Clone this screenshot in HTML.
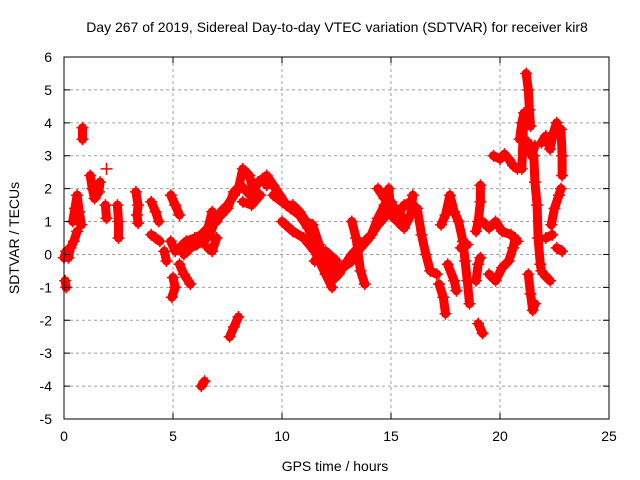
<!DOCTYPE html>
<html><head><meta charset="utf-8"><style>
body{margin:0;background:#fff}
svg{display:block;font-family:"Liberation Sans",sans-serif}
</style></head><body>
<svg id="chart" width="640" height="480">
<rect width="640" height="480" fill="#fff"/>
<text x="337" y="32" font-size="14" text-anchor="middle">Day 267 of 2019, Sidereal Day-to-day VTEC variation (SDTVAR) for receiver kir8</text>
<text x="335" y="471" font-size="14" text-anchor="middle">GPS time / hours</text>
<text x="19" y="238" font-size="14" text-anchor="middle" transform="rotate(-90 19 238)">SDTVAR / TECUs</text>
<g id="grid"></g><g id="data"></g><g id="axes"></g>
</svg>
<script>
const xTicks=[0,5,10,15,20,25];
const yTicks=[-5,-4,-3,-2,-1,0,1,2,3,4,5,6];
// tracks separated by null
const times=[0,0.1,0.2,0.3,0.45,0.6,null,0.05,0.1,null,0.4,0.5,0.6,0.7,0.8,null,0.85,0.85,null,1.2,1.3,1.4,1.6,1.65,null,1.95,null,1.9,1.95,null,2.45,2.5,2.5,null,3.3,3.4,3.35,3.4,null,4.0,4.2,4.35,null,4.0,4.2,4.4,null,4.6,4.7,null,4.9,5.1,5.3,null,4.9,5.1,null,5.0,5.1,4.95,null,5.3,5.5,5.8,null,
5.3,5.6,6.0,6.3,6.6,6.8,7.0,7.2,7.5,7.8,8.0,8.2,8.5,8.7,8.9,9.1,9.3,null,6.6,6.8,7.0,null,8.2,8.6,9.0,null,6.3,6.45,null,7.6,7.8,8.0,null,
5.5,5.8,6.1,6.4,6.7,6.9,7.2,7.5,7.8,8.1,8.4,8.7,9.0,null,
9.3,9.6,9.9,10.2,10.5,10.8,11.1,11.4,11.7,12.0,12.3,12.6,12.9,13.2,13.5,13.8,14.1,14.4,14.7,15.0,15.3,15.6,15.9,null,10.0,10.5,11.0,11.5,12.0,12.3,null,11.5,12.0,12.5,null,13.2,13.4,13.6,13.8,null,14.4,14.7,14.9,15.0,15.3,15.6,15.9,16.0,null,
9.6,10.0,10.4,10.8,11.2,11.6,12.0,12.4,12.8,13.2,13.6,14.0,14.4,14.8,15.2,15.6,null,
16.2,16.4,16.6,16.8,17.1,null,17.2,17.4,17.5,null,17.3,17.5,17.7,17.9,18.1,18.3,18.4,18.5,18.6,null,17.6,17.9,18.0,null,18.2,18.5,null,18.9,19.0,19.1,null,18.9,19.0,19.1,19.1,null,19.0,19.2,null,19.2,19.5,19.8,20.1,20.5,20.8,null,19.5,19.8,20.1,20.4,20.6,20.7,null,19.7,20.0,20.2,20.4,20.6,20.8,null,
20.9,21.0,21.1,21.0,null,21.2,21.3,21.35,21.4,null,21.3,21.45,21.6,null,21.3,21.4,21.5,21.6,null,21.55,21.6,21.7,21.75,21.85,21.9,null,21.9,22.1,22.3,22.45,22.6,22.7,null,22.0,22.3,null,22.1,22.4,null,22.35,22.5,22.7,22.8,null,22.8,22.85,22.85,null,22.6,22.85];
const values=[-0.1,0.1,-0.1,0.2,0.4,0.7,null,-0.8,-1.0,null,1.0,1.4,1.8,1.3,0.9,null,3.5,3.85,null,2.4,2.0,1.7,1.9,2.2,null,2.6,null,1.5,1.1,null,1.5,1.0,0.5,null,1.9,1.5,1.2,0.95,null,1.6,1.3,1.0,null,0.6,0.5,0.4,null,0.1,-0.2,null,1.8,1.5,1.2,null,0.4,0.1,null,-0.7,-1.0,-1.3,null,-0.3,-0.6,-0.9,null,
0.2,0.4,0.5,0.6,0.8,1.3,1.0,1.3,1.5,1.8,2.0,2.6,2.4,1.9,2.2,2.3,2.1,null,0.2,0.1,0.5,null,1.6,1.5,1.8,null,-4.0,-3.85,null,-2.5,-2.2,-1.9,null,
0.0,0.2,0.3,0.4,0.6,1.0,1.2,1.4,1.9,2.1,1.9,1.7,1.8,null,
2.4,2.1,1.8,1.5,1.5,1.3,1.0,0.9,0.3,-0.4,-0.8,-0.6,-0.3,0.0,0.2,0.4,0.6,1.1,1.5,1.6,1.2,1.5,1.6,null,1.0,0.7,0.5,0.1,-0.6,-1.0,null,-0.2,0.1,-0.2,null,1.0,0.5,-0.5,-0.9,null,2.0,1.7,2.0,1.2,1.0,0.8,1.2,1.8,null,
1.8,1.6,1.4,1.2,0.8,0.2,-0.2,-0.5,-0.4,-0.2,0.2,0.5,0.9,1.2,1.3,1.1,null,
1.4,0.6,0.0,-0.5,-0.6,null,-0.9,-1.3,-1.8,null,0.9,1.2,1.8,1.3,1.0,0.4,-0.2,-0.8,-1.5,null,-0.3,-0.8,-1.1,null,0.2,0.3,null,-0.8,-0.3,-0.1,null,0.7,1.0,1.6,2.1,null,-2.1,-2.4,null,1.0,0.8,1.0,0.7,0.6,0.4,null,-0.6,-0.8,-0.4,-0.2,0.2,0.5,null,3.0,2.9,3.05,2.9,2.7,2.6,null,
3.5,4.0,4.3,2.6,null,5.5,5.0,4.4,3.9,null,3.4,3.0,3.3,null,-0.6,-1.2,-1.7,-1.5,null,3.0,2.2,1.5,0.5,-0.3,-0.5,null,3.4,3.6,3.2,3.7,4.0,3.7,null,-0.6,-0.8,null,0.5,0.6,null,0.9,1.4,1.8,2.0,null,3.8,3.0,2.4,null,0.2,0.1];

const L=64,R=609,T=57,B=419;
const xs=t=>L+(t-0)/25*(R-L);
const ys=v=>B-(v+5)/11*(B-T);
const NS='http://www.w3.org/2000/svg';
const grid=document.getElementById('grid'),data=document.getElementById('data'),axes=document.getElementById('axes');
function mk(tag,attrs,parent){const e=document.createElementNS(NS,tag);for(const k in attrs)e.setAttribute(k,attrs[k]);parent.appendChild(e);return e;}
xTicks.forEach(t=>{
  if(t>0&&t<25){const g=mk('line',{x1:xs(t),x2:xs(t),y1:T,y2:B,stroke:'#a0a0a0','stroke-dasharray':'3,3'},grid);
  
  }
  const tk=mk('path',{d:`M${xs(t)},${B}v-6M${xs(t)},${T}v6`,stroke:'#000'},axes);
  
  
  const lb=mk('text',{x:xs(t),y:B+22,'font-size':14,'text-anchor':'middle'},axes);lb.textContent=t;
  
  
});
yTicks.forEach(v=>{
  if(v>-5&&v<6){const g=mk('line',{x1:L,x2:R,y1:ys(v),y2:ys(v),stroke:'#a0a0a0','stroke-dasharray':'3,3'},grid);
  
  }
  const tk=mk('path',{d:`M${L},${ys(v)}h6M${R},${ys(v)}h-6`,stroke:'#000'},axes);
  
  
  const lb=mk('text',{x:L-12,y:ys(v)+5,'font-size':14,'text-anchor':'end'},axes);lb.textContent=v;
  
  
});
const fr=mk('rect',{x:L,y:T,width:R-L,height:B-T,fill:'none',stroke:'#000'},axes);


let d='',start=true;
for(let i=0;i<times.length;i++){
  if(times[i]===null){start=true;continue;}
  d+=(start?'M':'L')+xs(times[i]).toFixed(1)+','+ys(values[i]).toFixed(1);start=false;
}
const band=mk('path',{d:d,fill:'none',stroke:'#ff0000','stroke-width':9,'stroke-linecap':'round','stroke-linejoin':'round'},data);


let pd='';
for(let i=0;i<times.length;i++){
  if(times[i]===null)continue;
  const x=xs(times[i]),y=ys(values[i]);
  pd+=`M${(x-6).toFixed(1)},${y.toFixed(1)}h12M${x.toFixed(1)},${(y-6).toFixed(1)}v12`;
}
const pts=mk('path',{d:pd,stroke:'#ff0000','stroke-width':1.5,fill:'none'},data);


</script>
</body></html>
